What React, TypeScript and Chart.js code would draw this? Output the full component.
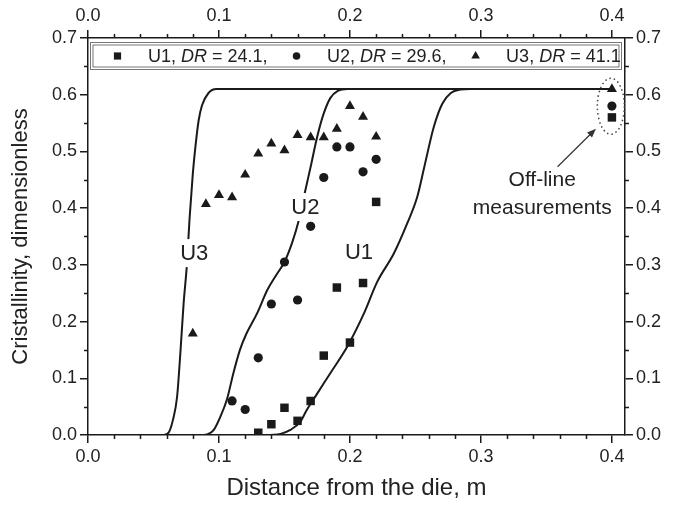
import React, { useEffect, useRef } from 'react';
import { Chart, registerables } from 'chart.js';

Chart.register(...registerables);

// ---------- data ----------
const xTickValues = [0, 0.1, 0.2, 0.3, 0.4];
const yTickValues = [0, 0.1, 0.2, 0.3, 0.4, 0.5, 0.6, 0.7];

const seriesNames = ['U1', 'U2', 'U3'];
const drValues = ['24.1', '29.6', '41.1'];

// measured points
const u1X = [0.13, 0.14, 0.15, 0.16, 0.17, 0.18, 0.19, 0.20, 0.21, 0.22, 0.40];
const u1Y = [0.004, 0.019, 0.048, 0.025, 0.060, 0.140, 0.260, 0.163, 0.268, 0.411, 0.56];
const u2X = [0.11, 0.12, 0.13, 0.14, 0.15, 0.16, 0.17, 0.18, 0.19, 0.20, 0.21, 0.22, 0.40];
const u2Y = [0.060, 0.045, 0.136, 0.231, 0.305, 0.238, 0.368, 0.454, 0.508, 0.508, 0.464, 0.486, 0.58];
const u3X = [0.08, 0.09, 0.10, 0.11, 0.12, 0.13, 0.14, 0.15, 0.16, 0.17, 0.18, 0.19, 0.20, 0.21, 0.22, 0.40];
const u3Y = [0.179, 0.407, 0.423, 0.419, 0.459, 0.496, 0.514, 0.502, 0.529, 0.525, 0.525, 0.540, 0.580, 0.561, 0.526, 0.61];

// model curves
const c1X = [0, 0.135, 0.147, 0.1545, 0.162, 0.167, 0.175, 0.185, 0.198, 0.2106, 0.2208, 0.2335, 0.2437, 0.2514, 0.2565, 0.264, 0.2705, 0.277, 0.2845, 0.292, 0.40];
const c1Y = [0, 0, 0.002, 0.009, 0.023, 0.044, 0.073, 0.109, 0.156, 0.214, 0.270, 0.320, 0.373, 0.420, 0.470, 0.543, 0.584, 0.603, 0.609, 0.61, 0.61];
const c2X = [0, 0.088, 0.092, 0.096, 0.101, 0.106, 0.111, 0.116, 0.121, 0.129, 0.137, 0.144, 0.150, 0.156, 0.161, 0.166, 0.170, 0.175, 0.180, 0.185, 0.191, 0.198, 0.205, 0.40];
const c2Y = [0, 0, 0.002, 0.009, 0.032, 0.062, 0.109, 0.150, 0.179, 0.214, 0.256, 0.283, 0.305, 0.340, 0.379, 0.432, 0.473, 0.526, 0.567, 0.594, 0.607, 0.61, 0.61, 0.61];
const c3X = [0, 0.058, 0.062, 0.065, 0.068, 0.0705, 0.073, 0.0755, 0.0775, 0.080, 0.082, 0.0845, 0.087, 0.092, 0.098, 0.104, 0.40];
const c3Y = [0, 0, 0.006, 0.028, 0.067, 0.144, 0.232, 0.300, 0.380, 0.460, 0.508, 0.555, 0.581, 0.603, 0.610, 0.61, 0.61];

// ---------- styling / layout ----------
const FAMILY = "'Liberation Sans', Arial, Helvetica, sans-serif";
const INK = '#1a1a1a';
const TEXT = '#222';

const curveLabels = [
  { text: 'U1', x: 0.2069, y: 0.3225 },
  { text: 'U2', x: 0.166, y: 0.402 },
  { text: 'U3', x: 0.0811, y: 0.3207 },
];
const offlineNote = { lines: ['Off-line', 'measurements'], x: 0.3468, y1: 0.449, y2: 0.40 };
const arrowFrom = { x: 0.3585, y: 0.473 };
const arrowTo = { x: 0.3878, y: 0.540 };
const ellipse = { x: 0.3992, y: 0.5797, rx: 13.5, ry: 28 };

const toPts = (xs: number[], ys: number[]) => xs.map((x, i) => ({ x, y: ys[i] }));

const minorTicksPlugin = {
  id: 'minorTicks',
  afterDraw(chart: any) {
    const ctx = chart.ctx;
    const { left, right, top, bottom } = chart.chartArea;
    const xs = chart.scales.x;
    const ys = chart.scales.y;
    ctx.save();
    ctx.strokeStyle = INK;
    ctx.lineWidth = 1.5;
    ctx.beginPath();
    for (let i = 1; i * 0.02 <= xs.max + 1e-9; i++) {
      if (i % 5 === 0) continue;
      const px = Math.round(xs.getPixelForValue(i * 0.02)) + 0.5;
      ctx.moveTo(px, bottom);
      ctx.lineTo(px, bottom + 4);
      ctx.moveTo(px, top);
      ctx.lineTo(px, top - 4);
    }
    for (let i = 1; i < 14; i += 2) {
      const py = Math.round(ys.getPixelForValue(i * 0.05)) + 0.5;
      ctx.moveTo(left, py);
      ctx.lineTo(left - 4, py);
      ctx.moveTo(right, py);
      ctx.lineTo(right + 4, py);
    }
    ctx.stroke();
    ctx.restore();
  },
};

const annotationPlugin = {
  id: 'annot',
  afterDatasetDraw(chart: any, args: any) {
    if (args.index !== 0) return;
    const ctx = chart.ctx;
    const xs = chart.scales.x;
    const ys = chart.scales.y;
    ctx.save();
    ctx.font = `22px ${FAMILY}`;
    ctx.textAlign = 'center';
    ctx.textBaseline = 'middle';
    curveLabels.forEach((l) => {
      const px = xs.getPixelForValue(l.x);
      const py = ys.getPixelForValue(l.y);
      const w = ctx.measureText(l.text).width;
      ctx.fillStyle = '#fff';
      ctx.fillRect(px - w / 2 - 1, py - 14, w + 2, 28);
      ctx.fillStyle = TEXT;
      ctx.fillText(l.text, px, py + 1);
    });
    ctx.restore();
  },
  afterDraw(chart: any) {
    const ctx = chart.ctx;
    const xs = chart.scales.x;
    const ys = chart.scales.y;
    const { left, right, top } = chart.chartArea;
    ctx.save();
    // off-line note
    ctx.font = `21px ${FAMILY}`;
    ctx.textAlign = 'center';
    ctx.textBaseline = 'middle';
    ctx.fillStyle = TEXT;
    const nx = xs.getPixelForValue(offlineNote.x);
    ctx.fillText(offlineNote.lines[0], nx, ys.getPixelForValue(offlineNote.y1));
    ctx.fillText(offlineNote.lines[1], nx, ys.getPixelForValue(offlineNote.y2));
    // arrow
    const ax0 = xs.getPixelForValue(arrowFrom.x);
    const ay0 = ys.getPixelForValue(arrowFrom.y);
    const ax1 = xs.getPixelForValue(arrowTo.x);
    const ay1 = ys.getPixelForValue(arrowTo.y);
    const ang = Math.atan2(ay1 - ay0, ax1 - ax0);
    ctx.strokeStyle = '#333';
    ctx.lineWidth = 1.2;
    ctx.beginPath();
    ctx.moveTo(ax0, ay0);
    ctx.lineTo(ax1 - 6 * Math.cos(ang), ay1 - 6 * Math.sin(ang));
    ctx.stroke();
    ctx.fillStyle = '#333';
    ctx.beginPath();
    ctx.moveTo(ax1, ay1);
    ctx.lineTo(ax1 - 9 * Math.cos(ang) + 3.5 * Math.sin(ang), ay1 - 9 * Math.sin(ang) - 3.5 * Math.cos(ang));
    ctx.lineTo(ax1 - 9 * Math.cos(ang) - 3.5 * Math.sin(ang), ay1 - 9 * Math.sin(ang) + 3.5 * Math.cos(ang));
    ctx.closePath();
    ctx.fill();
    // dotted ellipse
    ctx.setLineDash([1.5, 3]);
    ctx.lineWidth = 1.5;
    ctx.strokeStyle = '#444';
    ctx.beginPath();
    ctx.ellipse(xs.getPixelForValue(ellipse.x), ys.getPixelForValue(ellipse.y), ellipse.rx, ellipse.ry, 0, 0, Math.PI * 2);
    ctx.stroke();
    ctx.setLineDash([]);

    // legend
    const bx0 = left + 2.5;
    const bx1 = right - 3.5;
    const by0 = top + 4.5;
    const by1 = top + 31.5;
    ctx.fillStyle = '#fff';
    ctx.fillRect(bx0, by0, bx1 - bx0, by1 - by0);
    ctx.strokeStyle = '#777';
    ctx.lineWidth = 1;
    ctx.strokeRect(bx0, by0, bx1 - bx0, by1 - by0);
    ctx.strokeRect(bx0 + 2.5, by0 + 2.5, bx1 - bx0 - 5, by1 - by0 - 5);
    const cy = (by0 + by1) / 2;
    let mx = left + 29.5;
    const normal = `18px ${FAMILY}`;
    const italic = `italic 18px ${FAMILY}`;
    ctx.textAlign = 'left';
    ctx.textBaseline = 'middle';
    const metas = chart.data.datasets;
    [3, 4, 5].forEach((di, k) => {
      const ds = metas[di];
      ctx.fillStyle = INK;
      ctx.beginPath();
      const style = ds.pointStyle;
      if (style === 'rect') {
        ctx.rect(mx - 3.6, cy - 3.6, 7.2, 7.2);
      } else if (style === 'circle') {
        ctx.arc(mx, cy, 3.8, 0, Math.PI * 2);
      } else {
        const r = 5;
        ctx.moveTo(mx, cy - r);
        ctx.lineTo(mx + r * 0.866, cy + r * 0.5);
        ctx.lineTo(mx - r * 0.866, cy + r * 0.5);
        ctx.closePath();
      }
      ctx.fill();
      let tx = mx + 30.5;
      const parts: [string, string][] = [
        [`${seriesNames[k]}, `, normal],
        ['DR', italic],
        [` = ${drValues[k]}${k < 2 ? ',' : ''}`, normal],
      ];
      ctx.fillStyle = TEXT;
      parts.forEach(([t, f]) => {
        ctx.font = f;
        ctx.fillText(t, tx, cy + 1);
        tx += ctx.measureText(t).width;
      });
      mx = tx + 29;
    });
    ctx.restore();
  },
};

function axis(position: string, dir: 'x' | 'y', ticksArr: number[], extra: any) {
  return {
    type: 'linear',
    position,
    min: 0,
    max: dir === 'x' ? 0.41 : 0.7,
    afterBuildTicks: (s: any) => {
      s.ticks = ticksArr.map((v) => ({ value: v }));
    },
    ticks: {
      callback: (v: any) => Number(v).toFixed(1),
      font: { family: FAMILY, size: 18 },
      color: TEXT,
      padding: 3,
      maxRotation: 0,
      autoSkip: false,
    },
    grid: { drawOnChartArea: false, color: INK, lineWidth: 1.5, tickLength: 8 },
    border: { display: true, color: INK, width: 1.5 },
    ...extra,
  };
}

export default function App() {
  const ref = useRef<HTMLCanvasElement | null>(null);
  useEffect(() => {
    if (!ref.current) return;
    const lineDs = (label: string, xs: number[], ys: number[]) => ({
      type: 'line',
      label,
      data: toPts(xs, ys),
      borderColor: INK,
      borderWidth: 2,
      pointRadius: 0,
      fill: false,
      cubicInterpolationMode: 'monotone',
      order: 2,
      xAxisID: 'x',
      yAxisID: 'y',
    });
    const ptDs = (label: string, xs: number[], ys: number[], style: string, r: number) => ({
      type: 'scatter',
      label,
      data: toPts(xs, ys),
      pointStyle: style,
      pointRadius: r,
      backgroundColor: INK,
      borderColor: INK,
      borderWidth: 0,
      showLine: false,
      order: 1,
      xAxisID: 'x',
      yAxisID: 'y',
    });
    const chart = new Chart(ref.current, {
      type: 'scatter',
      data: {
        datasets: [
          lineDs('U1 model', c1X, c1Y),
          lineDs('U2 model', c2X, c2Y),
          lineDs('U3 model', c3X, c3Y),
          ptDs('U1', u1X, u1Y, 'rect', 6),
          ptDs('U2', u2X, u2Y, 'circle', 4.6),
          ptDs('U3', u3X, u3Y, 'triangle', 5.8),
        ] as any,
      },
      options: {
        responsive: false,
        animation: false,
        devicePixelRatio: 1,
        layout: { padding: 0 },
        plugins: { legend: { display: false }, tooltip: { enabled: false } },
        scales: {
          x: axis('bottom', 'x', xTickValues, {
            title: { display: true, text: 'Distance from the die, m', font: { family: FAMILY, size: 24 }, color: TEXT, padding: { top: 0, bottom: 3 } },
            afterFit: (s: any) => { s.height = 71; },
          }),
          x2: axis('top', 'x', xTickValues, { afterFit: (s: any) => { s.height = 38; } }),
          y: axis('left', 'y', yTickValues, {
            title: { display: true, text: 'Cristallinity, dimensionless', font: { family: FAMILY, size: 22 }, color: TEXT, padding: { top: 8, bottom: 0 } },
            afterFit: (s: any) => { s.width = 88; },
          }),
          y2: axis('right', 'y', yTickValues, { afterFit: (s: any) => { s.width = 60; } }),
        } as any,
      },
      plugins: [annotationPlugin, minorTicksPlugin],
    } as any);
    return () => chart.destroy();
  }, []);
  return (
    <div style={{ position: 'fixed', left: 0, top: 0, width: 685, height: 506, background: '#fff' }}>
      <canvas ref={ref} width={685} height={506} style={{ display: 'block' }} />
    </div>
  );
}
